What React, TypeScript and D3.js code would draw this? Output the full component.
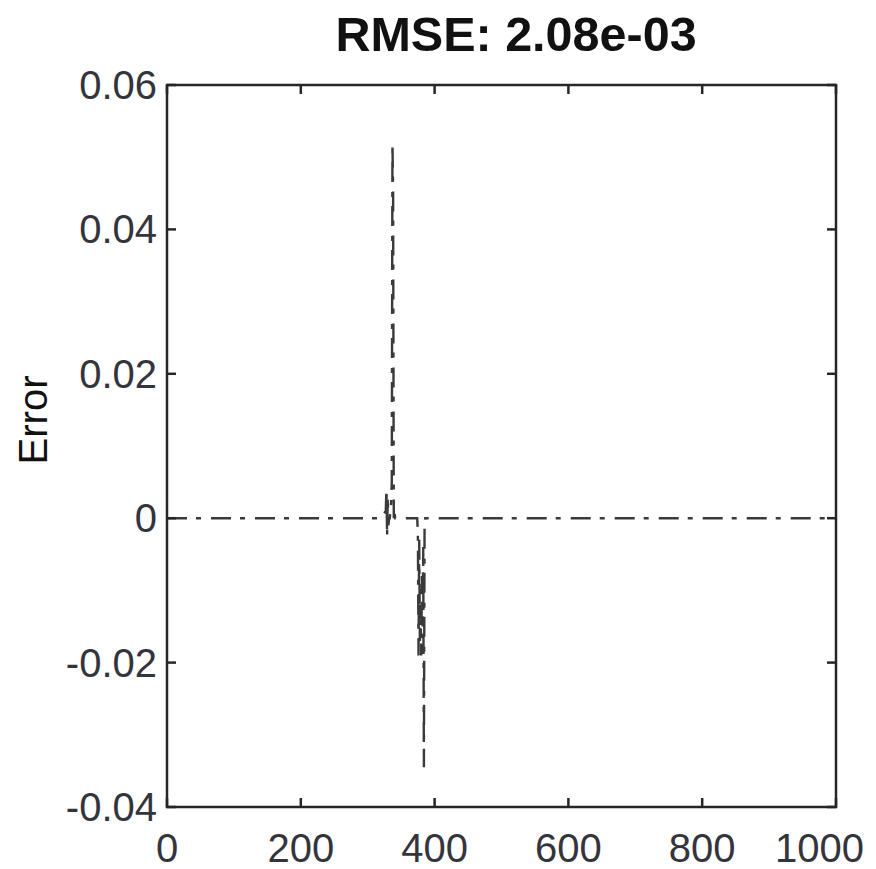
import React from "react";
import * as d3 from "d3";

const sampleX = [0, 320, 327, 328, 329, 330, 331, 332, 333, 335, 336, 337, 338, 339, 340, 341, 374, 375, 376, 377, 378, 379, 380, 381, 382, 383, 384, 385, 386, 1000];
const errorY = [0, 0, 0.001, 0.004, -0.0025, 0.003, -0.001, 0, 0, 0.002, 0.005, 0.052, 0.045, 0, 0.001, 0, 0, -0.002, -0.019, -0.003, -0.017, -0.012, -0.019, -0.008, -0.015, -0.004, -0.0345, -0.001, 0, 0];
const xTicks = [0, 200, 400, 600, 800, 1000];
const yTicks = [-0.04, -0.02, 0, 0.02, 0.04, 0.06];
const yTickLabels = ["-0.04", "-0.02", "0", "0.02", "0.04", "0.06"];
const titleText = "RMSE: 2.08e-03";
const yLabelText = "Error";

const W = 876, H = 869;
const L = 167, R = 836, T = 85, B = 807;

export default function App() {
  const x = d3.scaleLinear().domain([0, 1000]).range([L, R]);
  const y = d3.scaleLinear().domain([-0.04, 0.06]).range([B, T]);
  const pts = sampleX.map((v, i) => [v, errorY[i]] as [number, number]);
  const line = d3.line<[number, number]>().x(d => x(d[0])).y(d => y(d[1]));
  const axisColor = "#262626";
  const font = "Liberation Sans, Arial, sans-serif";
  const tickLen = 9;
  return (
    <svg width={W} height={H} style={{ position: "absolute", left: 0, top: 0, background: "#fff" }}>
      <rect x={0} y={0} width={W} height={H} fill="#fff" />
      <path d={line(pts) || ""} fill="none" stroke="#3a3a3a" strokeWidth={2.4} strokeDasharray="20 9 5 10" />
      <rect x={L} y={T} width={R - L} height={B - T} fill="none" stroke={axisColor} strokeWidth={2.5} />
      {xTicks.map((t, i) => {
        const last = i === xTicks.length - 1;
        return (
          <g key={"xt" + t}>
            <line x1={x(t)} x2={x(t)} y1={B} y2={B - tickLen} stroke={axisColor} strokeWidth={2.5} />
            <line x1={x(t)} x2={x(t)} y1={T} y2={T + tickLen} stroke={axisColor} strokeWidth={2.5} />
            <text x={last ? W - 12 : x(t)} y={B + 55} textAnchor={last ? "end" : "middle"} fontFamily={font} fontSize={40} fill="#34343c">{t}</text>
          </g>
        );
      })}
      {yTicks.map((t, i) => (
        <g key={"yt" + t}>
          <line x1={L} x2={L + tickLen} y1={y(t)} y2={y(t)} stroke={axisColor} strokeWidth={2.5} />
          <line x1={R} x2={R - tickLen} y1={y(t)} y2={y(t)} stroke={axisColor} strokeWidth={2.5} />
          <text x={L - 10} y={y(t) + 14} textAnchor="end" fontFamily={font} fontSize={40} fill="#34343c">{yTickLabels[i]}</text>
        </g>
      ))}
      <text x={516} y={51} textAnchor="middle" fontFamily={font} fontWeight="bold" fontSize={48.5} fill="#111">{titleText}</text>
      <text transform={`translate(47,420) rotate(-90)`} textAnchor="middle" fontFamily={font} fontSize={40} fill="#111">{yLabelText}</text>
    </svg>
  );
}
